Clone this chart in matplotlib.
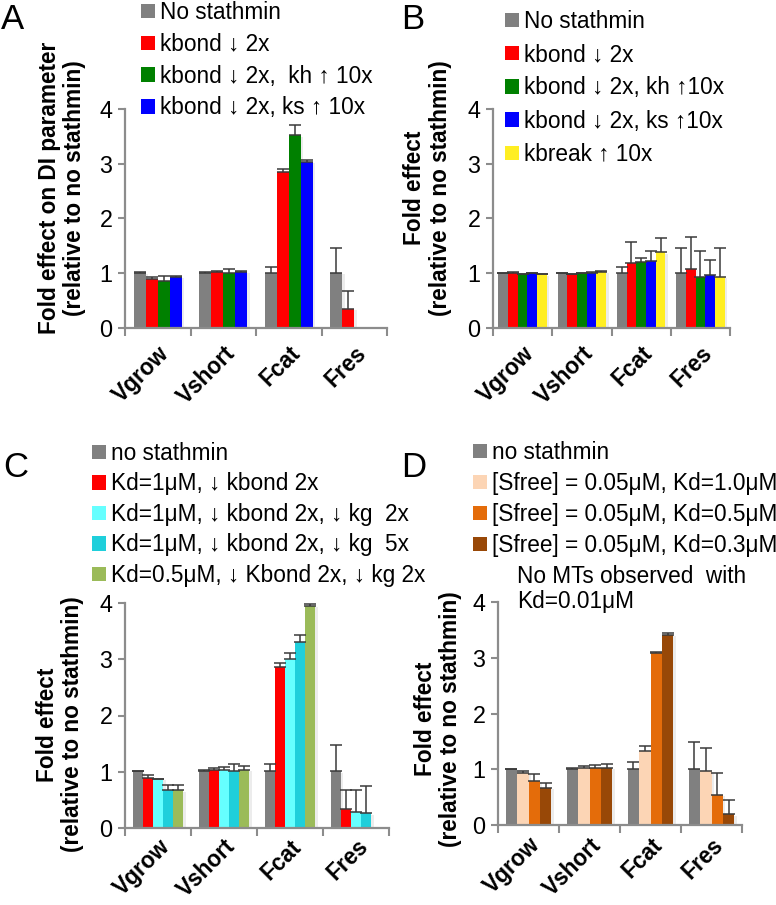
import numpy as np
import matplotlib
matplotlib.use('Agg')
import matplotlib.pyplot as plt
from matplotlib import patheffects as pe
from matplotlib.transforms import ScaledTranslation

plt.rcParams['font.family'] = ['Liberation Sans', 'DejaVu Sans']

nan = np.nan
categories = ['Vgrow', 'Vshort', 'Fcat', 'Fres']

# ---- Panel A ----
a_labels = ['No stathmin', 'kbond \u2193 2x', 'kbond \u2193 2x,  kh \u2191 10x', 'kbond \u2193 2x, ks \u2191 10x']
a_colors = ['#808080', '#ff0000', '#008000', '#0000ff']
a_values = [[1.01, 1.01, 1.01, 1.01],
            [0.89, 1.03, 2.85, 0.35],
            [0.85, 1.01, 3.52, nan],
            [0.94, 1.03, 3.03, nan]]
a_errors = [[0.005, 0.005, 0.11, 0.46],
            [0.05, 0.02, 0.06, 0.33],
            [0.10, 0.06, 0.18, nan],
            [0.01, 0.02, 0.04, nan]]

# ---- Panel B ----
b_labels = ['No stathmin', 'kbond \u2193 2x', 'kbond \u2193 2x, kh \u219110x', 'kbond \u2193 2x, ks \u219110x', 'kbreak \u2191 10x']
b_colors = ['#808080', '#ff0000', '#008000', '#0000ff', '#ffee22']
b_values = [[1.00, 1.00, 1.00, 1.00],
            [1.01, 0.99, 1.18, 1.08],
            [0.98, 1.00, 1.20, 0.93],
            [1.00, 1.01, 1.22, 0.96],
            [0.98, 1.03, 1.38, 0.93]]
b_errors = [[0.01, 0.005, 0.11, 0.46],
            [0.02, 0.005, 0.39, 0.58],
            [0.005, 0.005, 0.08, 0.47],
            [0.005, 0.02, 0.19, 0.29],
            [0.005, 0.02, 0.26, 0.53]]

# ---- Panel C ----
c_labels = ['no stathmin', 'Kd=1\u03bcM, \u2193 kbond 2x', 'Kd=1\u03bcM, \u2193 kbond 2x, \u2193 kg  2x',
            'Kd=1\u03bcM, \u2193 kbond 2x, \u2193 kg  5x', 'Kd=0.5\u03bcM, \u2193 Kbond 2x, \u2193 kg 2x']
c_colors = ['#808080', '#ff0000', '#66ffff', '#1fcfdb', '#9bbb59']
c_values = [[1.01, 1.02, 1.01, 1.01],
            [0.89, 1.04, 2.86, 0.34],
            [0.87, 1.03, 3.00, 0.29],
            [0.68, 1.02, 3.30, 0.26],
            [0.67, 1.04, 3.95, nan]]
c_errors = [[0.005, 0.005, 0.12, 0.46],
            [0.05, 0.02, 0.08, 0.33],
            [0.01, 0.06, 0.11, 0.39],
            [0.08, 0.11, 0.13, 0.48],
            [0.10, 0.07, 0.04, nan]]

# ---- Panel D ----
d_labels = ['no stathmin', '[Sfree] = 0.05\u03bcM, Kd=1.0\u03bcM', '[Sfree] = 0.05\u03bcM, Kd=0.5\u03bcM',
            '[Sfree] = 0.05\u03bcM, Kd=0.3\u03bcM']
d_colors = ['#808080', '#fcd5b5', '#e46c0a', '#984807']
d_values = [[1.00, 1.01, 1.00, 1.00],
            [0.93, 1.02, 1.33, 0.96],
            [0.79, 1.03, 3.09, 0.54],
            [0.67, 1.03, 3.41, 0.19]]
d_errors = [[0.005, 0.01, 0.13, 0.49],
            [0.04, 0.04, 0.09, 0.43],
            [0.12, 0.04, 0.02, 0.39],
            [0.09, 0.07, 0.03, 0.25]]
d_note = 'No MTs observed  with\nKd=0.01\u03bcM'

W, H = 776, 905
fig = plt.figure(figsize=(W / 100, H / 100), dpi=100)

AXCOL = '#8c8c8c'
ERRCOL = '#3a3a3a'
FS = 16.3


def make_panel(rect, values, errors, colors, labels, group_w, ylabel, ylab_xy,
               leg_xy, leg_spacing, letter, letter_xy, xpad):
    x0, x1, ytop, ybot = rect
    ax = fig.add_axes([x0 / W, 1 - ybot / H, (x1 - x0) / W, (ybot - ytop) / H])
    n = len(values)
    bw = group_w / n
    xs = np.arange(len(categories))
    handles = []
    for i, (vals, errs, col, lab) in enumerate(zip(values, errors, colors, labels)):
        pos = xs - group_w / 2 + bw * (i + 0.5)
        v = np.array(vals, dtype=float)
        e = np.array(errs, dtype=float)
        bars = ax.bar(pos, v, width=bw, color=col, label=lab, zorder=2)
        for b in bars:
            b.set_path_effects([pe.SimplePatchShadow(offset=(1.8, -1.0), shadow_rgbFace='0.6', alpha=0.18),
                                pe.Normal()])
        ax.errorbar(pos, v, yerr=[np.zeros_like(e), e], fmt='none', ecolor=ERRCOL,
                    elinewidth=1.1, capsize=4.5, capthick=1.1, zorder=3)
        handles.append(bars)
    ax.set_xlim(-0.5, len(categories) - 0.5)
    ax.set_ylim(0, 4)
    ax.set_yticks([0, 1, 2, 3, 4])
    ax.set_yticklabels(['0', '1', '2', '3', '4'], fontsize=FS + 0.5)
    ax.set_xticks(xs)
    ax.set_xticklabels(categories, fontsize=FS, fontweight='bold', rotation=45,
                       ha='right', va='top', rotation_mode='anchor')
    shift = ScaledTranslation(-4 / 100, 0, fig.dpi_scale_trans)
    for t in ax.get_xticklabels():
        t.set_transform(t.get_transform() + shift)
    ax.set_xticks(np.arange(-0.5, len(categories)), minor=True)
    ax.tick_params(axis='x', which='major', length=0, pad=xpad)
    ax.tick_params(axis='x', which='minor', length=6, width=1.5, color=AXCOL, direction='out')
    ax.tick_params(axis='y', length=5, width=1.5, color=AXCOL, direction='out', pad=4)
    for s in ['top', 'right']:
        ax.spines[s].set_visible(False)
    for s in ['left', 'bottom']:
        ax.spines[s].set_color(AXCOL)
        ax.spines[s].set_linewidth(1.6)
    ax.set_ylabel(ylabel, fontsize=FS, fontweight='bold', va='center', linespacing=1.15)
    ax.yaxis.set_label_coords(*ylab_xy)
    leg = ax.legend(handles=handles, loc='upper left',
                    bbox_to_anchor=(leg_xy[0] / W, 1 - leg_xy[1] / H),
                    bbox_transform=fig.transFigure, frameon=False, fontsize=FS,
                    handlelength=0.6, handleheight=0.6, handletextpad=0.25,
                    labelspacing=leg_spacing, borderpad=0, borderaxespad=0)
    for h in leg.legend_handles:
        h.set_path_effects([])
    fig.text(letter_xy[0] / W, 1 - letter_xy[1] / H, letter, fontsize=25, va='top', ha='left')
    return ax


ax_a = make_panel((125, 387, 109, 328), a_values, a_errors, a_colors, a_labels, 0.74,
                  'Fold effect on DI parameter\n(relative to no stathmin)', (-0.24, 0.64),
                  (141, 1), 0.39, 'A', (1, 3), 10)
ax_b = make_panel((493, 730, 109, 328), b_values, b_errors, b_colors, b_labels, 0.82,
                  'Fold effect\n(relative to no stathmin)', (-0.276, 0.64),
                  (505, 10), 0.45, 'B', (401, 3), 10)
ax_c = make_panel((125, 389, 603, 828), c_values, c_errors, c_colors, c_labels, 0.77,
                  'Fold effect\n(relative to no stathmin)', (-0.246, 0.46),
                  (92, 442), 0.33, 'C', (3, 451), 5)
ax_d = make_panel((498, 742, 602, 825), d_values, d_errors, d_colors, d_labels, 0.75,
                  'Fold effect\n(relative to no stathmin)', (-0.246, 0.476),
                  (473, 441), 0.35, 'D', (401, 451), 6)

fig.text(517 / W, 1 - 589 / H, d_note, fontsize=FS, ha='left', va='center', linespacing=1.1)

fig.savefig('out.png', dpi=100)
